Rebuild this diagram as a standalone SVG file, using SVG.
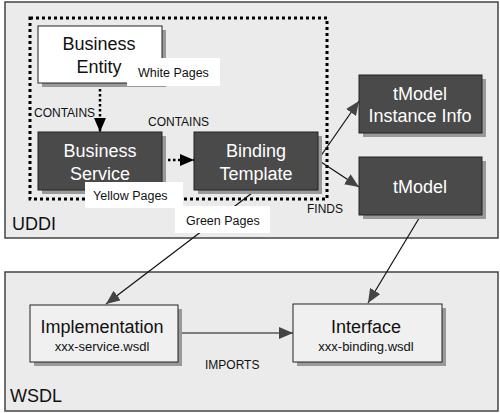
<svg xmlns="http://www.w3.org/2000/svg" width="500" height="413" viewBox="0 0 500 413">
<defs>
<style>
text{font-family:"Liberation Sans",Arial,sans-serif;}
.frame{fill:#ebebeb;stroke:#444;stroke-width:1.5;}
.shadow{fill:#999;}
.dark{fill:#4a4a4a;stroke:#222;stroke-width:1;}
.light{fill:#f0f0f0;stroke:#222;stroke-width:1;}
.white{fill:#fff;stroke:#222;stroke-width:1;}
.lbl{fill:#fff;}
.t-big{font-size:18px;text-anchor:middle;}
.t-w{fill:#fff;}
.t-k{fill:#111;}
.t-sm{font-size:12px;fill:#111;}
.t-file{font-size:13px;fill:#111;text-anchor:middle;}
.t-lbl{font-size:12.5px;fill:#111;}
.t-frame{font-size:18px;fill:#111;}
.dots{fill:none;stroke:#000;stroke-width:3;stroke-dasharray:3 3;}
.dline{fill:none;stroke:#000;stroke-width:2.5;stroke-dasharray:2.5 2.5;}
.line{fill:none;stroke:#111;stroke-width:1.2;}
</style>
<marker id="ah" viewBox="0 0 14 12" refX="14" refY="6" markerWidth="14" markerHeight="12" markerUnits="userSpaceOnUse" orient="auto">
<path d="M0,0 L14,6 L0,12 Z" fill="#444"/>
</marker>
<marker id="ahk" viewBox="0 0 14 12" refX="14" refY="6" markerWidth="14" markerHeight="12" markerUnits="userSpaceOnUse" orient="auto">
<path d="M0,0 L14,6 L0,12 Z" fill="#000"/>
</marker>
</defs>
<rect x="0" y="0" width="500" height="413" fill="#fff"/>
<g id="uddi">
<rect class="frame" x="5" y="2" width="493" height="236"/>
<text class="t-frame" x="12" y="230">UDDI</text>
</g>
<g id="wsdl">
<rect class="frame" x="5" y="272" width="493" height="139"/>
<text class="t-frame" x="10" y="402">WSDL</text>
</g>
<rect class="dots" x="30" y="18" width="297" height="181"/>
<g id="connectors">
<line class="dline" x1="100" y1="84" x2="100" y2="132" marker-end="url(#ahk)"/>
<line class="dline" x1="163" y1="160" x2="194" y2="160" marker-end="url(#ahk)"/>
<line class="line" x1="318" y1="160" x2="359" y2="101" marker-end="url(#ah)"/>
<line class="line" x1="318" y1="160" x2="359" y2="187" marker-end="url(#ah)"/>
<line class="line" x1="256" y1="190" x2="106" y2="304" marker-end="url(#ah)"/>
<line class="line" x1="421" y1="215" x2="368" y2="303" marker-end="url(#ah)"/>
<line class="line" x1="178" y1="333" x2="293" y2="333" marker-end="url(#ah)"/>
<text class="t-sm" x="34" y="117">CONTAINS</text>
<text class="t-sm" x="148" y="126">CONTAINS</text>
<text class="t-sm" x="307" y="213">FINDS</text>
<text class="t-sm" x="205" y="369">IMPORTS</text>
</g>
<g id="business-entity">
<rect class="shadow" x="42" y="30" width="124" height="57"/>
<rect class="white" x="38" y="26" width="124" height="57"/>
<text class="t-big t-k" x="99" y="50">Business</text>
<text class="t-big t-k" x="99" y="73">Entity</text>
</g>
<g id="white-pages">
<rect class="lbl" x="127" y="58" width="93" height="28"/>
<text class="t-lbl" x="138" y="77">White Pages</text>
</g>
<g id="business-service">
<rect class="shadow" x="42" y="136" width="124" height="58"/>
<rect class="dark" x="38" y="132" width="124" height="58"/>
<text class="t-big t-w" x="100" y="157">Business</text>
<text class="t-big t-w" x="100" y="180">Service</text>
</g>
<g id="binding-template">
<rect class="shadow" x="198" y="136" width="124" height="58"/>
<rect class="dark" x="194" y="132" width="124" height="58"/>
<text class="t-big t-w" x="256" y="157">Binding</text>
<text class="t-big t-w" x="256" y="180">Template</text>
</g>
<g id="yellow-pages">
<rect class="lbl" x="85" y="182" width="98" height="26"/>
<text class="t-lbl" x="93" y="200">Yellow Pages</text>
</g>
<g id="green-pages">
<rect class="lbl" x="175" y="206" width="95" height="27"/>
<text class="t-lbl" x="186" y="225">Green Pages</text>
</g>
<g id="tmodel-instance-info">
<rect class="shadow" x="363" y="79" width="123" height="58"/>
<rect class="dark" x="359" y="75" width="123" height="58"/>
<text class="t-big t-w" x="420" y="100">tModel</text>
<text class="t-big t-w" x="420" y="122">Instance Info</text>
</g>
<g id="tmodel">
<rect class="shadow" x="363" y="161" width="123" height="58"/>
<rect class="dark" x="359" y="157" width="123" height="58"/>
<text class="t-big t-w" x="420" y="193">tModel</text>
</g>
<g id="implementation">
<rect class="shadow" x="34" y="309" width="148" height="57"/>
<rect class="light" x="30" y="305" width="148" height="57"/>
<text class="t-big t-k" x="102" y="333">Implementation</text>
<text class="t-file" x="102" y="351">xxx-service.wsdl</text>
</g>
<g id="interface">
<rect class="shadow" x="297" y="308" width="149" height="58"/>
<rect class="light" x="293" y="304" width="149" height="58"/>
<text class="t-big t-k" x="366" y="333">Interface</text>
<text class="t-file" x="366" y="351">xxx-binding.wsdl</text>
</g>
</svg>
